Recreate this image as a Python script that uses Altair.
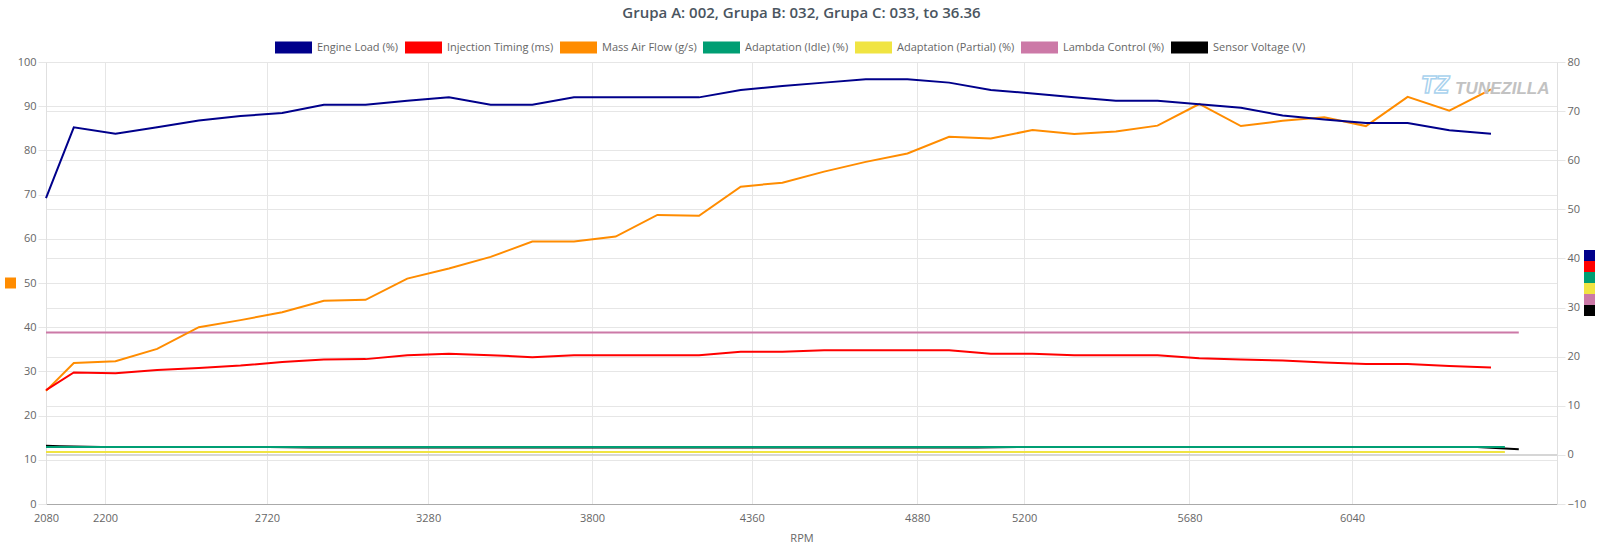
import altair as alt
import pandas as pd

# ---- series definitions -------------------------------------------------
series_names = [
    "Engine Load (%)",
    "Injection Timing (ms)",
    "Mass Air Flow (g/s)",
    "Adaptation (Idle) (%)",
    "Adaptation (Partial) (%)",
    "Lambda Control (%)",
    "Sensor Voltage (V)",
]
series_colors = ["#00008b", "#ff0000", "#ff8c00", "#009e73", "#f0e442", "#cc79a7", "#000000"]

# log rows at which each measuring block was read (A = 002, B = 032, C = 033)
rows_a = [0, 2, 5, 8, 11, 14, 17, 20, 23, 26, 29, 32, 35, 38, 41, 44, 47, 50, 53, 56,
          59, 62, 65, 68, 71, 74, 77, 80, 83, 86, 89, 92, 95, 98, 101, 104]
rows_b = [0, 3, 6, 9, 12, 15, 18, 21, 24, 27, 30, 33, 36, 39, 42, 45, 48, 51, 54, 57,
          60, 63, 66, 69, 72, 75, 78, 81, 84, 87, 90, 93, 96, 99, 102, 105]
rows_c = [0, 1, 4, 7, 10, 13, 16, 19, 22, 25, 28, 31, 34, 37, 40, 43, 46, 49, 52, 55,
          58, 61, 64, 67, 70, 73, 76, 79, 82, 85, 88, 91, 94, 97, 100, 103, 106]

# block 002
engine_load = [52.3, 66.7, 65.4, 66.7, 68.1, 69.0, 69.6, 71.3, 71.3, 72.1, 72.8, 71.3,
               71.3, 72.8, 72.8, 72.8, 72.8, 74.3, 75.1, 75.8, 76.5, 76.5, 75.8, 74.3,
               73.6, 72.8, 72.1, 72.1, 71.4, 70.7, 69.1, 68.3, 67.6, 67.6, 66.1, 65.4]
injection_timing = [13.2, 16.8, 16.6, 17.3, 17.7, 18.2, 18.9, 19.4, 19.5, 20.3, 20.6, 20.3,
                    19.9, 20.3, 20.3, 20.3, 20.3, 21.0, 21.0, 21.3, 21.3, 21.3, 21.3, 20.6,
                    20.6, 20.3, 20.3, 20.3, 19.7, 19.4, 19.2, 18.8, 18.5, 18.5, 18.1, 17.8]
mass_air_flow = [25.6, 31.9, 32.3, 35.1, 40.0, 41.6, 43.4, 46.0, 46.2, 51.0, 53.3, 55.9,
                 59.4, 59.4, 60.5, 65.4, 65.2, 71.8, 72.7, 75.2, 77.4, 79.3, 83.1, 82.7,
                 84.6, 83.7, 84.3, 85.6, 90.5, 85.5, 86.7, 87.5, 85.5, 92.1, 89.0, 93.8]
# block 032
adapt_idle = [1.6, 1.6, 1.6, 1.6, 1.6, 1.6, 1.6, 1.6, 1.6, 1.6, 1.6, 1.6,
              1.6, 1.6, 1.6, 1.6, 1.6, 1.6, 1.6, 1.6, 1.6, 1.6, 1.6, 1.6,
              1.6, 1.6, 1.6, 1.6, 1.6, 1.6, 1.6, 1.6, 1.6, 1.6, 1.6, 1.6]
adapt_partial = [0.6, 0.6, 0.6, 0.6, 0.6, 0.6, 0.6, 0.6, 0.6, 0.6, 0.6, 0.6,
                 0.6, 0.6, 0.6, 0.6, 0.6, 0.6, 0.6, 0.6, 0.6, 0.6, 0.6, 0.6,
                 0.6, 0.6, 0.6, 0.6, 0.6, 0.6, 0.6, 0.6, 0.6, 0.6, 0.6, 0.6]
# block 033
lambda_control = [24.9, 24.9, 24.9, 24.9, 24.9, 24.9, 24.9, 24.9, 24.9, 24.9, 24.9, 24.9,
                  24.9, 24.9, 24.9, 24.9, 24.9, 24.9, 24.9, 24.9, 24.9, 24.9, 24.9, 24.9,
                  24.9, 24.9, 24.9, 24.9, 24.9, 24.9, 24.9, 24.9, 24.9, 24.9, 24.9, 24.9, 24.9]
sensor_voltage = [1.85, 1.75, 1.6, 1.6, 1.6, 1.6, 1.6, 1.5, 1.5, 1.5, 1.5, 1.5,
                  1.5, 1.5, 1.5, 1.5, 1.5, 1.5, 1.5, 1.5, 1.5, 1.5, 1.5, 1.5,
                  1.6, 1.6, 1.6, 1.6, 1.6, 1.6, 1.6, 1.6, 1.6, 1.6, 1.6, 1.6, 1.15]

# x-axis ticks: log position and the RPM shown there
tick_rows = [0, 4.25, 15.9, 27.5, 39.3, 50.8, 62.7, 70.4, 82.3, 94.0]
tick_rpm = ["2080", "2200", "2720", "3280", "3800", "4360", "4880", "5200", "5680", "6040"]

left_ticks = [0, 10, 20, 30, 40, 50, 60, 70, 80, 90, 100]
right_ticks = [-10, 0, 10, 20, 30, 40, 50, 60, 70, 80]

# ---- layout --------------------------------------------------------------
W, H = 1511, 442
FONT = "Open Sans"
GRID = "#e6e6e6"
LABEL = "#666666"


def frame(name, rows, values):
    return pd.DataFrame({"row": rows, "value": values, "series": name})


label_expr = (
    "[" + ",".join(f"'{r}'" for r in tick_rpm) + "]"
    + "[indexof([" + ",".join(str(v) for v in tick_rows) + "], datum.value)]"
)

x_enc = alt.X(
    "row:Q",
    scale=alt.Scale(domain=[0, 108.75], nice=False, zero=False),
    axis=alt.Axis(
        values=tick_rows, labelExpr=label_expr, title="RPM", grid=True,
        gridColor=GRID, ticks=False, domainColor="#aaaaaa", labelFlush=False,
        labelColor=LABEL, labelFont=FONT, labelFontSize=11, labelPadding=8,
        titleFont=FONT, titleFontSize=11, titleFontWeight="normal",
        titleColor=LABEL, titlePadding=9, labelOverlap=False,
    ),
)

color_enc = alt.Color(
    "series:N",
    scale=alt.Scale(domain=series_names, range=series_colors),
    legend=alt.Legend(
        orient="none", legendX=223, legendY=-39, direction="horizontal",
        columns=7, gridAlign="none", title=None, symbolType="stroke",
        symbolSize=1369, symbolStrokeWidth=12, labelFont=FONT, labelFontSize=11,
        labelColor=LABEL, labelOffset=alt.ExprRef(expr="-1"),
        columnPadding=alt.ExprRef(expr="-18"),
    ),
)

left_scale = alt.Scale(domain=[0, 100], nice=False, zero=False)
right_scale = alt.Scale(domain=[-10, 80], nice=False, zero=False)

axis_style = dict(
    grid=True, gridColor=GRID, tickColor=GRID, tickSize=8, domainColor="#e0e0e0",
    labelColor=LABEL, labelFont=FONT, labelFontSize=11, labelPadding=2, title=None,
)
left_axis = alt.Axis(orient="left", values=left_ticks, **axis_style)
right_axis = alt.Axis(orient="right", values=right_ticks, **axis_style)


def line(df, scale):
    return alt.Chart(df).mark_line(strokeWidth=2).encode(
        x=x_enc,
        y=alt.Y("value:Q", scale=scale, axis=None),
        color=color_enc,
    )


# zero line of the right-hand axis (carries that axis and its grid)
zero_rule = alt.Chart(pd.DataFrame({"value": [0]})).mark_rule(
    color="#bdbdbd", strokeWidth=1
).encode(y=alt.Y("value:Q", scale=right_scale, axis=right_axis))

maf = alt.Chart(frame(series_names[2], rows_a, mass_air_flow)).mark_line(strokeWidth=2).encode(
    x=x_enc,
    y=alt.Y("value:Q", scale=left_scale, axis=left_axis),
    color=color_enc,
)

# axis colour keys beside each y axis, centred vertically
right_keys = [n for n in series_names if n != series_names[2]]
key_size = 11
key_top = H / 2 - key_size * len(right_keys) / 2
keys_right = pd.DataFrame({
    "series": right_keys,
    "top": [key_top + i * key_size for i in range(len(right_keys))],
    "bottom": [key_top + (i + 1) * key_size for i in range(len(right_keys))],
})
keys_left = pd.DataFrame({
    "series": [series_names[2]],
    "top": [H / 2 - key_size / 2],
    "bottom": [H / 2 + key_size / 2],
})
key_fill = alt.Fill("series:N", scale=alt.Scale(domain=series_names, range=series_colors), legend=None)

key_r = alt.Chart(keys_right).mark_rect().encode(
    x=alt.value(W + 27), x2=alt.value(W + 38),
    y=alt.Y("top:Q", scale=None), y2="bottom:Q", fill=key_fill,
)
key_l = alt.Chart(keys_left).mark_rect().encode(
    x=alt.value(-41), x2=alt.value(-30),
    y=alt.Y("top:Q", scale=None), y2="bottom:Q", fill=key_fill,
)

# watermark
brand = alt.Chart(pd.DataFrame({"t": ["TUNEZILLA"]})).mark_text(
    font="Liberation Sans", fontSize=17, fontWeight="bold", fontStyle="italic",
    color="#c2c2c2", align="left", baseline="middle",
).encode(x=alt.value(W - 102), y=alt.value(27), text="t:N")
brand_icon = alt.Chart(pd.DataFrame({"t": ["TZ"]})).mark_text(
    font="Liberation Sans", fontSize=23, fontWeight="bold", fontStyle="italic",
    fill="white", stroke="#a9d2ee", strokeWidth=1.5, align="center", baseline="middle",
).encode(x=alt.value(W - 122), y=alt.value(24), text="t:N")

chart = alt.layer(
    zero_rule,
    line(frame(series_names[6], rows_c, sensor_voltage), right_scale),
    line(frame(series_names[5], rows_c, lambda_control), right_scale),
    line(frame(series_names[4], rows_b, adapt_partial), right_scale),
    line(frame(series_names[3], rows_b, adapt_idle), right_scale),
    maf,
    line(frame(series_names[1], rows_a, injection_timing), right_scale),
    line(frame(series_names[0], rows_a, engine_load), right_scale),
    key_r,
    key_l,
    brand_icon,
    brand,
).resolve_scale(
    y="independent"
).properties(
    width=W,
    height=H,
    autosize=alt.AutoSizeParams(type="none"),
    padding={"left": 46, "top": 62, "right": 43, "bottom": 42},
    title=alt.Title(
        "Grupa A: 002, Grupa B: 032, Grupa C: 033, to 36.36",
        font=FONT, fontSize=15, fontWeight=600, color="#4a5560",
        anchor="middle", offset=2,
    ),
).configure_view(strokeWidth=0)

chart.save("out.html", embed_options={"renderer": "svg", "actions": False})
